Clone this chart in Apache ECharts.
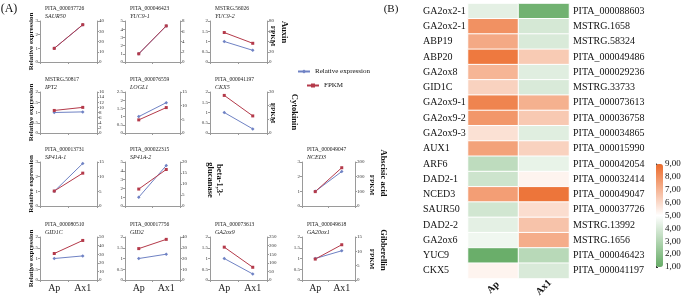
<!DOCTYPE html>
<html><head><meta charset="utf-8">
<script src="https://cdn.jsdelivr.net/npm/echarts@6/dist/echarts.min.js"></script>
<style>html,body{margin:0;padding:0;background:#fff}#c{width:685px;height:302px}</style>
</head><body><div id="c"></div>
<script>
// ---------- DATA ----------
const lineCategories = ['Ap', 'Ax1'];
const geneIds = ['PITA_000037726','PITA_000046423','MSTRG.56026','MSTRG.50817','PITA_000076559','PITA_000041197',
  'PITA_000013731','PITA_000022315','PITA_000049047','PITA_000080510','PITA_000017756','PITA_000073613','PITA_000049618'];
const geneNames = ['SAUR50','YUC9-1','YUC9-2','IPT2','LOGL1','CKX5','SP41A-1','SP41A-2','NCED3','GID1C','GID2','GA2ox9','GA20ox1'];
const relExpr = [[1,2.72],[1,4.4],[1,0.57],[1,1.03],[1,1.85],[1,0.2],[1,2.9],[1,4.6],[1,2.35],[1,1.12],[1,1.2],[1,0.28],[1,1.36]];
const fpkm = [[13.3,36.4],[1.6,7.05],[57.5,36.5],[8.8,10.0],[4.8,9.3],[27.5,12.5],[5.1,11.2],[7.7,16.6],[98,261],[30.8,46],[29.2,37.8],[191,74],[7.3,12.3]];
const leftMax = [3,5,2,2,2.5,2,3,5,3,2,2,2,2];
const leftStep = [1,1,0.5,0.5,0.5,0.5,1,1,1,0.5,0.5,0.5,0.5];
const rightMax = [40,8,80,16,15,30,15,20,300,50,40,250,15];
const rightStep = [10,2,20,2,5,10,5,5,100,10,10,50,5];
const hormoneLabels = ['Auxin','Cytokinin','beta-1,3-\nglucanase','Abscisic acid','Gibberellin'];

const heatSamples = ['Ap','Ax1'];
const heatGenes = ['GA2ox2-1','GA2ox2-1','ABP19','ABP20','GA2ox8','GID1C','GA2ox9-1','GA2ox9-2','GA2ox9-3','AUX1','ARF6','DAD2-1','NCED3','SAUR50','DAD2-2','GA2ox6','YUC9','CKX5'];
const heatIds = ['PITA_000088603','MSTRG.1658','MSTRG.58324','PITA_000049486','PITA_000029236','MSTRG.33733','PITA_000073613','PITA_000036758','PITA_000034865','PITA_000015990','PITA_000042054','PITA_000032414','PITA_000049047','PITA_000037726','MSTRG.13992','MSTRG.1656','PITA_000046423','PITA_000041197'];
const heatAp = [4.3,7.95,7.3,8.6,7.0,6.2,8.3,7.8,5.8,7.5,3.3,3.7,7.6,3.8,4.3,4.6,1.1,5.3];
const heatAx1 = [1.3,3.9,4.0,6.4,4.2,4.0,7.1,6.45,4.2,6.2,4.4,5.3,8.7,5.9,6.6,7.2,3.15,4.0];
const colorMin = 1, colorMax = 9, colorStep = 1;

// ---------- LAYOUT ----------
const FONT = 'Liberation Serif';
const cellPos = [[0,0],[0,1],[0,2],[1,0],[1,1],[1,2],[2,0],[2,1],[2,3],[3,0],[3,1],[3,2],[3,3]];
const colX = [40,125,210,302], colW = [57,55,57,53];
const rowY = [21,92,162,237], rowH = [41,41,44,43];
const BLUE = '#6f82c4', RED = '#b43a4a', AXIS = '#9a9a9a';

const grid = [], xAxis = [], yAxis = [], series = [], title = [];
geneIds.forEach((id, i) => {
  const [r, c] = cellPos[i];
  grid.push({left: colX[c], top: rowY[r], width: colW[c], height: rowH[r]});
  xAxis.push({type: 'category', gridIndex: i, data: lineCategories, boundaryGap: true,
    axisLine: {lineStyle: {color: AXIS, width: 1}},
    axisTick: {show: true, length: 2, interval: 0, lineStyle: {color: AXIS}},
    axisLabel: {show: r === 3, fontFamily: FONT, fontSize: 10, color: '#222', margin: 3}});
  const ylab = {fontFamily: FONT, fontSize: 5, color: '#333', margin: 2};
  yAxis.push({type: 'value', gridIndex: i, min: 0, max: leftMax[i], interval: leftStep[i], position: 'left',
    axisLine: {show: true, lineStyle: {color: AXIS}}, axisTick: {show: true, length: 2, lineStyle: {color: AXIS}},
    splitLine: {show: false}, axisLabel: ylab});
  yAxis.push({type: 'value', gridIndex: i, min: 0, max: rightMax[i], interval: rightStep[i], position: 'right',
    axisLine: {show: true, lineStyle: {color: AXIS}}, axisTick: {show: true, length: 2, lineStyle: {color: AXIS}},
    splitLine: {show: false}, axisLabel: ylab});
  series.push({name: 'Relative expression', type: 'line', xAxisIndex: i, yAxisIndex: 2*i, data: relExpr[i],
    symbol: 'diamond', symbolSize: 3.5, lineStyle: {color: BLUE, width: 1}, itemStyle: {color: BLUE}, animation: false});
  series.push({name: 'FPKM', type: 'line', xAxisIndex: i, yAxisIndex: 2*i+1, data: fpkm[i],
    symbol: 'rect', symbolSize: 3, lineStyle: {color: RED, width: 1}, itemStyle: {color: RED}, animation: false});
  title.push({left: colX[c] + 5, top: rowY[r] - 15, text: id, subtext: geneNames[i], padding: 0, itemGap: 1,
    textStyle: {fontFamily: FONT, fontSize: 5.5, fontWeight: 'normal', color: '#222'},
    subtextStyle: {fontFamily: FONT, fontSize: 6, fontStyle: 'italic', color: '#222'}});
});

// heatmap
const HI = geneIds.length; // grid index 13
grid.push({left: 468, top: 3.5, width: 101, height: 275});
xAxis.push({type: 'category', gridIndex: HI, data: heatSamples, axisLine: {show: false}, axisTick: {show: false},
  axisLabel: {rotate: 45, align: 'center', verticalAlign: 'middle', fontFamily: FONT, fontSize: 10, fontWeight: 'bold', color: '#111', margin: 9}});
yAxis.push({type: 'category', gridIndex: HI, data: heatGenes, inverse: true, position: 'left',
  axisLine: {show: false}, axisTick: {show: false},
  axisLabel: {align: 'left', margin: 45, fontFamily: FONT, fontSize: 10, color: '#111'}});
yAxis.push({type: 'category', gridIndex: HI, data: heatIds, inverse: true, position: 'right',
  axisLine: {show: false}, axisTick: {show: false},
  axisLabel: {margin: 4, fontFamily: FONT, fontSize: 10, color: '#111'}});
const heatData = [];
heatGenes.forEach((g, k) => { heatData.push([0, k, heatAp[k]]); heatData.push([1, k, heatAx1[k]]); });
series.push({type: 'heatmap', xAxisIndex: HI, yAxisIndex: 2*HI, data: heatData,
  itemStyle: {borderColor: '#fff', borderWidth: 1}, animation: false});
const heatSeriesIndex = series.length - 1;

// colour-bar axis
grid.push({left: 656, top: 164, width: 7, height: 103});
xAxis.push({type: 'value', gridIndex: HI + 1, show: false, min: 0, max: 1});
yAxis.push({type: 'value', gridIndex: HI + 1, position: 'right', min: colorMin, max: colorMax, interval: colorStep,
  axisLine: {show: true, lineStyle: {color: '#333', width: 1}}, axisTick: {show: true, length: 2, lineStyle: {color: '#333'}},
  splitLine: {show: false},
  axisLabel: {margin: 2, fontFamily: FONT, fontSize: 9, color: '#111', formatter: v => v.toFixed(2).replace('.', ',')}});

// graphic texts
const graphic = [];
const txt = (x, y, text, size, weight, rot) => graphic.push({type: 'text', x, y, rotation: rot,
  style: {text, x: 0, y: 0, align: 'center', verticalAlign: 'middle', fontFamily: FONT, fontSize: size, fontWeight: weight, fill: '#111'}});
txt(9, 9, '(A)', 12, 'normal', 0);
txt(391, 9, '(B)', 11, 'normal', 0);
rowY.forEach((y, r) => txt(31.5, y + rowH[r]/2, 'Relative expression', 7, 'bold', Math.PI/2));
[[273,36],[273,113],[372,185],[372,259]].forEach(p => txt(p[0], p[1], 'FPKM', 7, 'bold', -Math.PI/2));
[[284,32],[294,112],[215,180],[383,173],[383,250]].forEach((p, k) => txt(p[0], p[1], hormoneLabels[k], 8.5, 'bold', -Math.PI/2));

const legendText = {fontFamily: FONT, fontSize: 7, color: '#111'};
const option = {
  backgroundColor: '#fff',
  animation: false,
  title, grid, xAxis, yAxis, series, graphic,
  legend: [
    {data: ['Relative expression'], left: 297, top: 68, padding: 0, itemWidth: 12, itemHeight: 5, itemGap: 2, textStyle: legendText},
    {data: ['FPKM'], left: 306, top: 82, padding: 0, itemWidth: 12, itemHeight: 5, itemGap: 2, textStyle: legendText}
  ],
  visualMap: {type: 'continuous', seriesIndex: heatSeriesIndex, min: colorMin, max: colorMax, calculable: false,
    left: 656, top: 164, itemWidth: 7, itemHeight: 103, padding: 0, orient: 'vertical',
    inRange: {color: ['#66ac66', '#ffffff', '#ec6a2a']}, textStyle: {fontSize: 1, color: 'transparent'}}
};
const chart = echarts.init(document.getElementById('c'), null, {renderer: 'canvas'});
chart.setOption(option);
</script></body></html>
